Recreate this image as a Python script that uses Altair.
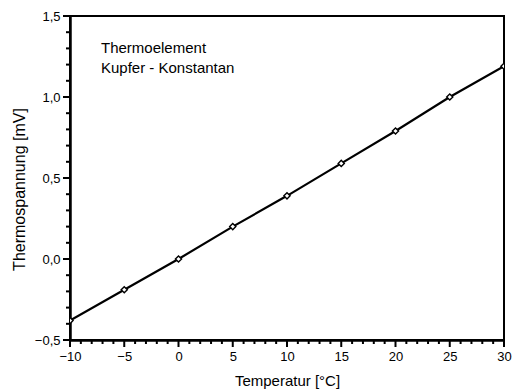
import altair as alt
import pandas as pd

# Thermocouple copper - constantan: voltage vs. temperature
temperatur = [-10, -5, 0, 5, 10, 15, 20, 25, 30]
spannung = [-0.38, -0.19, 0.0, 0.20, 0.39, 0.59, 0.79, 1.00, 1.19]

# Labelled (major) and unlabelled (minor) tick positions
x_major = [-10, -5, 0, 5, 10, 15, 20, 25, 30]
x_minor = [-9, -8, -7, -6, -4, -3, -2, -1, 1, 2, 3, 4, 6, 7, 8, 9,
           11, 12, 13, 14, 16, 17, 18, 19, 21, 22, 23, 24, 26, 27, 28, 29]
y_major = [-0.5, 0.0, 0.5, 1.0, 1.5]
y_minor = [-0.4, -0.3, -0.2, -0.1, 0.1, 0.2, 0.3, 0.4, 0.6, 0.7, 0.8, 0.9,
           1.1, 1.2, 1.3, 1.4]

annotation = ["Thermoelement", "Kupfer - Konstantan"]

FONT = "Liberation Sans"
W, H = 434, 324

df = pd.DataFrame({"T": temperatur, "U": spannung})

x_scale = alt.Scale(domain=[-10, 30], nice=False, zero=False)
y_scale = alt.Scale(domain=[-0.5, 1.5], nice=False, zero=False)

x_axis = alt.Axis(
    values=x_major, format="d", grid=False, ticks=False,
    domainWidth=2.5, domainColor="black", labelFlush=False, labelOverlap=False,
    labelFont=FONT, labelFontSize=13, labelColor="black", labelPadding=10,
    title="Temperatur [°C]", titleFont=FONT, titleFontSize=15,
    titleFontWeight="normal", titleColor="black", titlePadding=10,
)
y_axis = alt.Axis(
    values=y_major, grid=False, ticks=False,
    labelExpr="replace(format(datum.value, '.1f'), '.', ',')",
    domainWidth=2.5, domainColor="black", labelFlush=False, labelOverlap=False,
    labelFont=FONT, labelFontSize=13, labelColor="black", labelPadding=10,
    title="Thermospannung [mV]", titleFont=FONT, titleFontSize=16,
    titleFontWeight="normal", titleColor="black", titlePadding=7, titleY=173,
)

base = alt.Chart(df)

line = base.mark_line(color="black", strokeWidth=2.2, clip=True).encode(
    x=alt.X("T:Q", scale=x_scale, axis=x_axis),
    y=alt.Y("U:Q", scale=y_scale, axis=y_axis),
)

points = base.mark_point(
    shape="diamond", size=38, filled=True, fill="white", stroke="black",
    strokeWidth=1.4, opacity=1, clip=True,
).encode(
    x=alt.X("T:Q", scale=x_scale),
    y=alt.Y("U:Q", scale=y_scale),
)


def x_tick_layer(values, length):
    # short vertical strokes hanging below the bottom axis line
    return alt.Chart(pd.DataFrame({"T": values})).mark_rule(
        color="black", strokeWidth=2, clip=False
    ).encode(
        x=alt.X("T:Q", scale=x_scale),
        y=alt.value(H - 1),
        y2=alt.value(H + length),
    )


def y_tick_layer(values, length):
    # short horizontal strokes to the left of the left axis line
    return alt.Chart(pd.DataFrame({"U": values})).mark_rule(
        color="black", strokeWidth=2, clip=False
    ).encode(
        y=alt.Y("U:Q", scale=y_scale),
        x=alt.value(1),
        x2=alt.value(-length),
    )


ticks = [
    x_tick_layer(x_major, 7),
    x_tick_layer(x_minor, 4),
    y_tick_layer(y_major, 7),
    y_tick_layer(y_minor, 4),
]

label = alt.Chart(pd.DataFrame({"txt": [annotation]})).mark_text(
    align="left", baseline="alphabetic", font=FONT, fontSize=15,
    color="black", lineHeight=20,
).encode(
    x=alt.value(31),
    y=alt.value(37),
    text="txt",
)

chart = (
    alt.layer(line, points, *ticks, label)
    .properties(
        width=W, height=H,
        autosize=alt.AutoSizeParams(type="none"),
        padding={"left": 70, "top": 16, "right": 15, "bottom": 50},
        background="white",
    )
    .configure_view(stroke="black", strokeWidth=2)
)

chart.save("out.html", embed_options={"renderer": "svg", "actions": False})
